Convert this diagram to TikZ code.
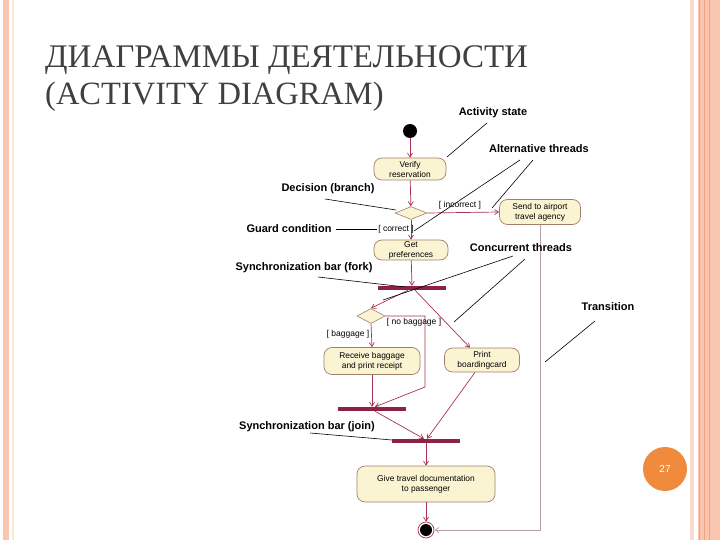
\documentclass[tikz,border=0pt]{standalone}
\usepackage{fontspec}
\setmainfont{Liberation Serif}
\setsansfont{Liberation Sans}
\usetikzlibrary{arrows.meta,shapes.geometric}
\definecolor{salmon}{HTML}{FBC5B0}
\definecolor{salmondk}{HTML}{F2A282}
\definecolor{peachlt}{HTML}{F8DCCD}
\definecolor{creamln}{HTML}{FAEBD2}
\definecolor{flow}{HTML}{A8324F}
\definecolor{barc}{HTML}{8E2242}
\definecolor{boxfill}{HTML}{FBF4D2}
\definecolor{boxline}{HTML}{A07F6C}
\definecolor{badge}{HTML}{F08A3C}
\definecolor{graylink}{HTML}{B8A0A6}
\definecolor{titlec}{HTML}{404040}
\tikzset{
  activity/.style={draw=boxline, fill=boxfill, rounded corners=8pt, line width=0.7pt,
    inner sep=0pt, align=center, font=\sffamily\fontsize{8.4}{10}\selectfont},
  syncbar/.style={fill=barc, draw=none, minimum height=4pt, inner sep=0pt},
  decision/.style={diamond, draw=boxline, fill=boxfill, line width=0.6pt, inner sep=0pt, aspect=2.2},
  callout/.style={font=\sffamily\bfseries\fontsize{11}{13}\selectfont, inner sep=0pt},
  guard/.style={font=\sffamily\fontsize{8.5}{10}\selectfont, inner sep=0pt},
  flowarrow/.style={draw=flow, line width=0.7pt, -{Straight Barb[length=4pt,width=5pt]}},
  pointer/.style={draw=black, line width=0.6pt},
}
\begin{document}
\begin{tikzpicture}[x=1pt,y=-1pt]
\useasboundingbox (0,0) rectangle (720,540);
% borders
\fill[salmon] (3,0) rectangle (9,540);
\draw[creamln, line width=1.5pt] (13,0) -- (13,540);
\fill[peachlt] (690,0) rectangle (693.5,540);
\fill[salmon] (698,0) rectangle (720,540);
\draw[salmondk, line width=0.8pt] (699,0) -- (699,540);
\draw[salmondk, line width=0.6pt] (704.5,0) -- (704.5,540);
\draw[salmondk, line width=0.6pt] (709.5,0) -- (709.5,540);
% title
\node[anchor=base west, inner sep=0pt, text=titlec, font=\fontsize{33}{36}\selectfont] (t1) at (45,68) {ДИАГРАММЫ ДЕЯТЕЛЬНОСТИ};
\node[anchor=base west, inner sep=0pt, text=titlec, font=\fontsize{32.5}{36}\selectfont] (t2) at (45,105) {(ACTIVITY DIAGRAM)};
% badge
\node[circle, fill=badge, minimum size=44pt, inner sep=0pt, text=white, font=\sffamily\fontsize{10}{12}\selectfont] (badge) at (665,469) {27};
% nodes
\node[circle, fill=black, minimum size=14pt, inner sep=0pt] (init) at (410,131) {};
\node[activity, minimum width=72pt, minimum height=22pt] (verify) at (410,169) {Verify\\reservation};
\node[decision, minimum width=32pt, minimum height=13pt] (d1) at (411,213) {};
\node[activity, minimum width=81pt, minimum height=25pt] (send) at (540,212) {Send to airport\\travel agency};
\node[activity, minimum width=74pt, minimum height=20pt] (getpref) at (411,250) {Get\\preferences};
\node[syncbar, minimum width=68pt] (fork) at (412,288) {};
\node[decision, minimum width=28pt, minimum height=15pt] (d2) at (371,316) {};
\node[activity, minimum width=96pt, minimum height=27pt] (receive) at (372,361) {Receive baggage\\and print receipt};
\node[activity, minimum width=75pt, minimum height=24pt] (print) at (482,360) {Print\\boardingcard};
\node[syncbar, minimum width=68pt] (join1) at (372,409) {};
\node[syncbar, minimum width=68pt] (join2) at (426,441) {};
\node[activity, minimum width=138pt, minimum height=36pt] (give) at (426,484) {Give travel documentation\\to passenger};
\node[circle, draw=flow, fill=white, line width=0.7pt, minimum size=16pt, inner sep=0pt] (final) at (426,530) {};
\fill[black] (final.center) circle (6pt);
% flows
\draw[flowarrow] (init) -- (verify);
\draw[flowarrow] (verify) -- (d1);
\draw[flowarrow] (d1.east) -- (send.west);
\draw[flowarrow] (d1.south) -- (getpref.north);
\draw[flowarrow] (getpref) -- (fork);
\draw[flowarrow] ([xshift=-4pt]fork.south) -- (d2.north);
\draw[flowarrow] ([xshift=3pt]fork.south) -- ([xshift=-12pt]print.north);
\draw[flowarrow] (d2.south) -- (receive.north);
\draw[flowarrow] (d2.east) -- (425,316) -- (425,387) -- ([xshift=3pt]join1.north);
\draw[flowarrow] (receive.south) -- (join1.north);
\draw[flowarrow] ([xshift=-7pt]print.south) -- ([xshift=1pt]join2.north);
\draw[flowarrow] ([xshift=3pt]join1.south) -- ([xshift=-2pt]join2.north);
\draw[flowarrow] (join2) -- (give);
\draw[flowarrow] (give) -- (final);
\draw[draw=graylink, line width=0.8pt, -{Straight Barb[length=4pt,width=5pt]}] (send.south) |- (final.east);
% guards
\node[guard] (gincorrect) at (460,205) {[ incorrect ]};
\node[guard] (gcorrect) at (396,229) {[ correct ]};
\node[guard] (gnobag) at (414,322) {[ no baggage ]};
\node[guard] (gbag) at (348,334) {[ baggage ]};
% callouts
\node[callout] (cact) at (493,113) {Activity state};
\node[callout] (calt) at (539,149) {Alternative threads};
\node[callout] (cdec) at (328,189) {Decision (branch)};
\node[callout] (cguard) at (289,229) {Guard condition};
\node[callout] (cconc) at (521,248) {Concurrent threads};
\node[callout] (cfork) at (304,268) {Synchronization bar (fork)};
\node[callout] (ctrans) at (608,307) {Transition};
\node[callout] (cjoin) at (307,427) {Synchronization bar (join)};
\coordinate (pact) at (447,157);
\coordinate (palt1) at (414,231);
\coordinate (palt2) at (492,208);
\coordinate (pdec) at (396,210);
\coordinate (pguard) at (377,229);
\coordinate (pconc1) at (383,300);
\coordinate (pconc2) at (454,322);
\coordinate (pfork) at (405,287);
\coordinate (ptrans) at (545,362);
\coordinate (pjoin) at (392,440);
\draw[pointer] (487,123) -- (pact);
\draw[pointer] (520,160) -- (palt1);
\draw[pointer] (533,160) -- (palt2);
\draw[pointer] (325,199) -- (pdec);
\draw[pointer] (cguard.east) ++(4,0) -- (pguard);
\draw[pointer] (513,256) -- (pconc1);
\draw[pointer] (525,259) -- (pconc2);
\draw[pointer] (318,277) -- (pfork);
\draw[pointer] (595,321) -- (ptrans);
\draw[pointer] (310,433) -- (pjoin);
\end{tikzpicture}
\end{document}
